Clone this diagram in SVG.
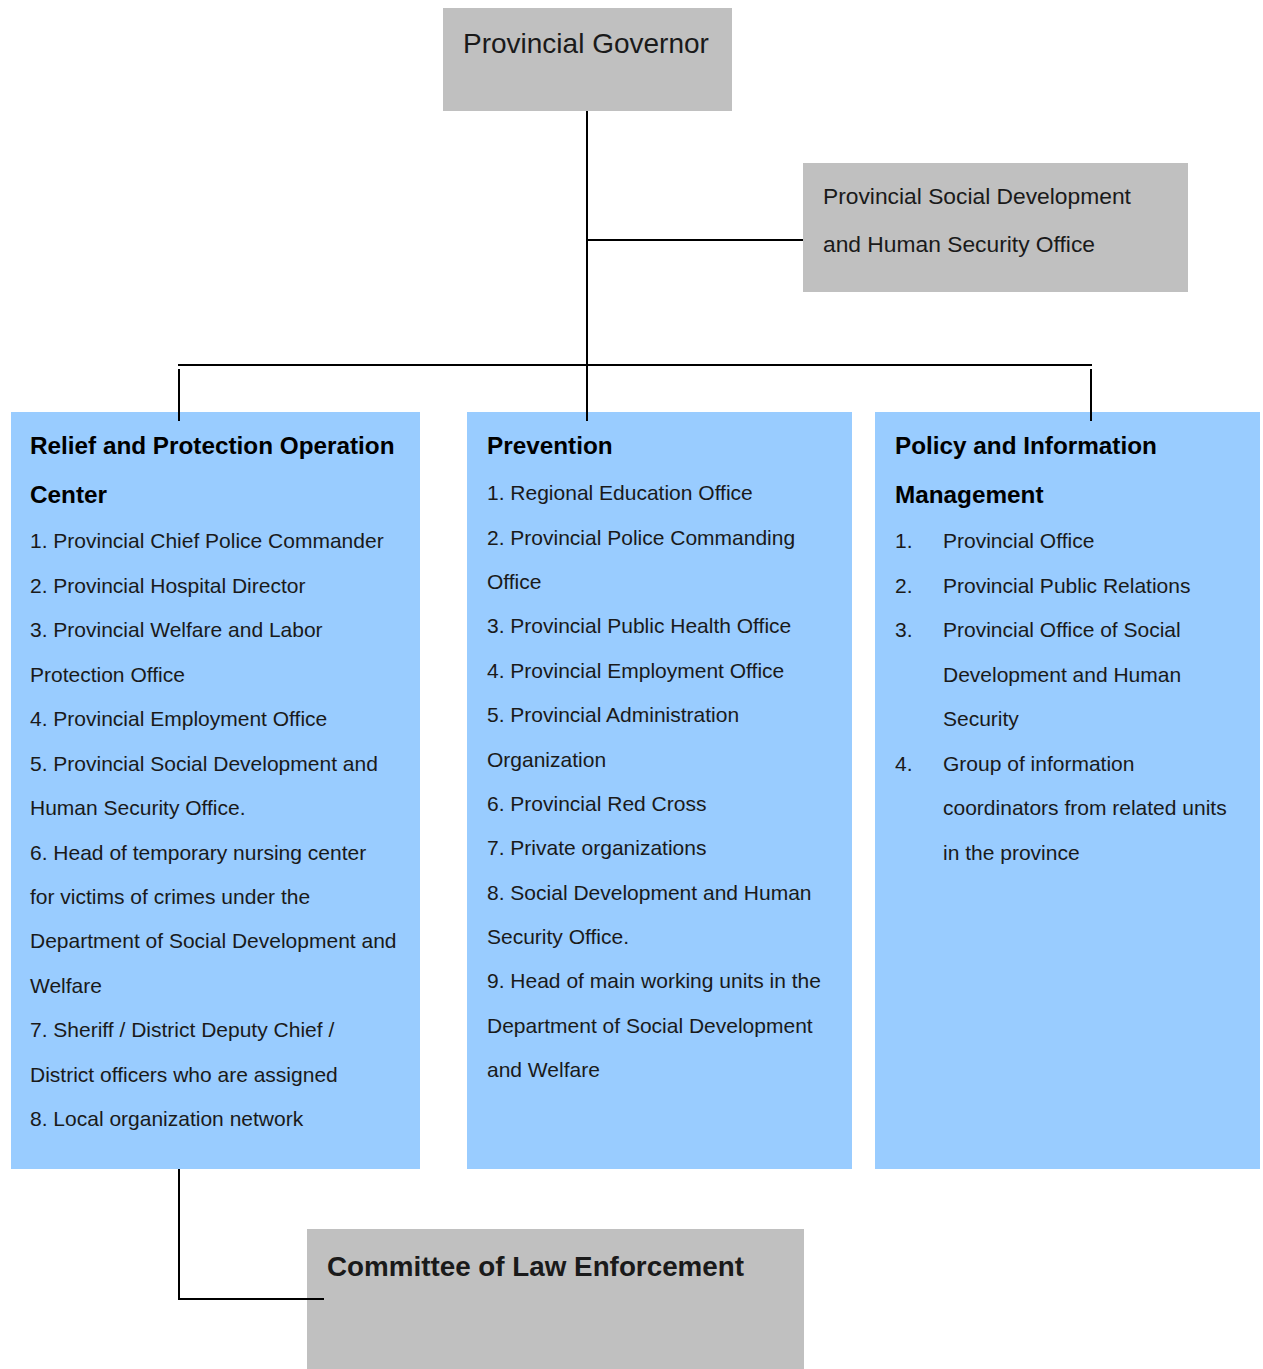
<svg xmlns="http://www.w3.org/2000/svg" width="1263" height="1369" viewBox="0 0 1263 1369">
<style>
.gray{fill:#c0c0c0}
.blue{fill:#99ccff}
.t{font-family:"Liberation Sans",Arial,sans-serif;fill:#1a1a1a}
.it{font-size:21px}
.h{font-size:24.3px;font-weight:bold;fill:#000}
.ln{stroke:#000;stroke-width:2;fill:none}
</style>
<rect width="1263" height="1369" fill="#fff"/>
<g id="governor">
<rect class="gray" x="443" y="8" width="289" height="103"/>
<text class="t" x="463" y="53" font-size="28" fill="#000">Provincial Governor</text>
</g>
<g id="social-office">
<rect class="gray" x="803" y="163" width="385" height="129"/>
<text class="t" x="823" y="204" font-size="22.8">Provincial Social Development</text>
<text class="t" x="823" y="252" font-size="22.8">and Human Security Office</text>
</g>
<g id="relief">
<rect class="blue" x="11" y="412" width="409" height="757"/>
<text class="t h" x="30" y="454">Relief and Protection Operation</text>
<text class="t h" x="30" y="503">Center</text>
<g class="t it">
<text x="30" y="548">1. Provincial Chief Police Commander</text>
<text x="30" y="593">2. Provincial Hospital Director</text>
<text x="30" y="637">3. Provincial Welfare and Labor</text>
<text x="30" y="682">Protection Office</text>
<text x="30" y="726">4. Provincial Employment Office</text>
<text x="30" y="771">5. Provincial Social Development and</text>
<text x="30" y="815">Human Security Office.</text>
<text x="30" y="860">6. Head of temporary nursing center</text>
<text x="30" y="904">for victims of crimes under the</text>
<text x="30" y="948">Department of Social Development and</text>
<text x="30" y="993">Welfare</text>
<text x="30" y="1037">7. Sheriff / District Deputy Chief /</text>
<text x="30" y="1082">District officers who are assigned</text>
<text x="30" y="1126">8. Local organization network</text>
</g>
</g>
<g id="prevention">
<rect class="blue" x="467" y="412" width="385" height="757"/>
<text class="t h" x="487" y="454">Prevention</text>
<g class="t it">
<text x="487" y="500">1. Regional Education Office</text>
<text x="487" y="545">2. Provincial Police Commanding</text>
<text x="487" y="589">Office</text>
<text x="487" y="633">3. Provincial Public Health Office</text>
<text x="487" y="678">4. Provincial Employment Office</text>
<text x="487" y="722">5. Provincial Administration</text>
<text x="487" y="767">Organization</text>
<text x="487" y="811">6. Provincial Red Cross</text>
<text x="487" y="855">7. Private organizations</text>
<text x="487" y="900">8. Social Development and Human</text>
<text x="487" y="944">Security Office.</text>
<text x="487" y="988">9. Head of main working units in the</text>
<text x="487" y="1033">Department of Social Development</text>
<text x="487" y="1077">and Welfare</text>
</g>
</g>
<g id="policy">
<rect class="blue" x="875" y="412" width="385" height="757"/>
<text class="t h" x="895" y="454">Policy and Information</text>
<text class="t h" x="895" y="503">Management</text>
<g class="t it">
<text x="895" y="548">1.</text><text x="943" y="548">Provincial Office</text>
<text x="895" y="593">2.</text><text x="943" y="593">Provincial Public Relations</text>
<text x="895" y="637">3.</text><text x="943" y="637">Provincial Office of Social</text>
<text x="943" y="682">Development and Human</text>
<text x="943" y="726">Security</text>
<text x="895" y="771">4.</text><text x="943" y="771">Group of information</text>
<text x="943" y="815">coordinators from related units</text>
<text x="943" y="860">in the province</text>
</g>
</g>
<g id="committee">
<rect class="gray" x="307" y="1229" width="497" height="140"/>
<text class="t" x="327" y="1276" font-size="27.8" font-weight="bold" fill="#000">Committee of Law Enforcement</text>
</g>
<g id="connectors">
<line class="ln" x1="587" y1="111" x2="587" y2="421"/>
<line class="ln" x1="587" y1="240" x2="803" y2="240"/>
<line class="ln" x1="178" y1="365" x2="1092" y2="365"/>
<line class="ln" x1="179" y1="369" x2="179" y2="421"/>
<line class="ln" x1="1091" y1="369" x2="1091" y2="421"/>
<polyline class="ln" points="179,1169 179,1299 324,1299"/>
</g>
</svg>
